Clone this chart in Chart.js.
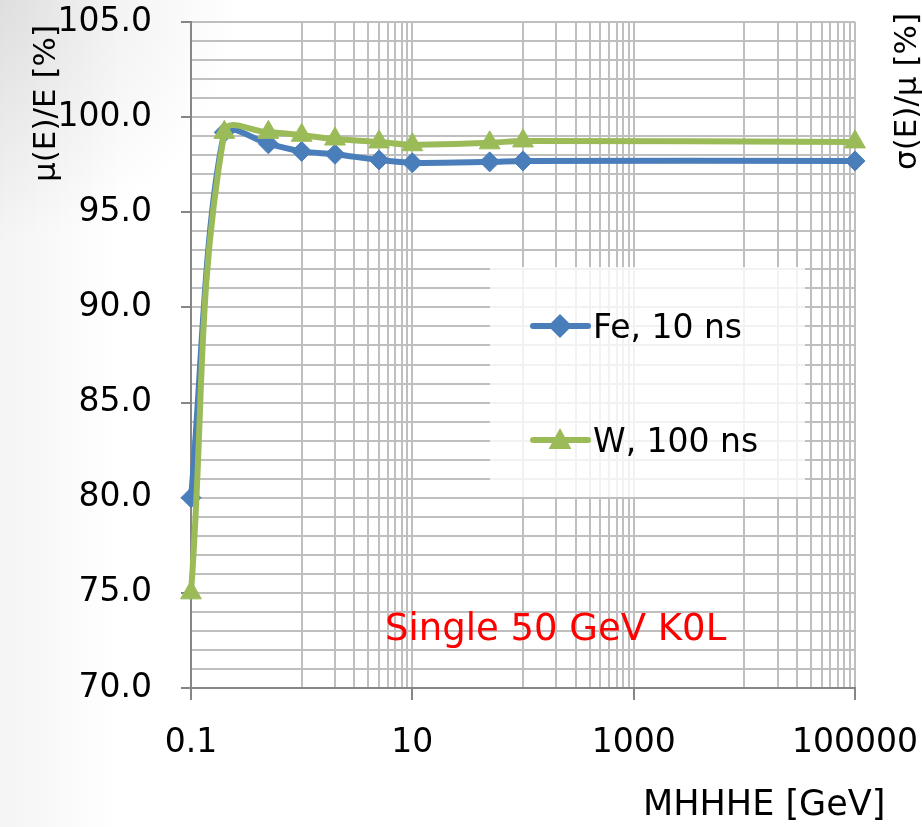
<!doctype html>
<html lang="en">
  <head>
    <meta charset="UTF-8" />
    <title>Mean response vs MHHHE</title>
    <script src="https://cdn.jsdelivr.net/npm/chart.js"></script>
    <style>
      body { margin: 0; background: #fff; }
    </style>
  </head>
  <body>
    <canvas id="responseChart" width="922" height="827"></canvas>
    <script>
      // values
      const energies = [0.1, 0.2, 0.5, 1, 2, 5, 10, 50, 100, 100000];
      const feMean = [80.0, 99.2, 98.6, 98.2, 98.05, 97.75, 97.6, 97.65, 97.7, 97.7];
      const wMean = [75.0, 99.2, 99.2, 99.05, 98.85, 98.7, 98.55, 98.65, 98.75, 98.7];
      const seriesNames = ["Fe, 10 ns", "W, 100 ns"];

      const xMajorTicks = [0.1, 10, 1000, 100000];
      const xMinorTicks = [1, 2, 3, 4, 5, 6, 7, 8, 9,
        100, 200, 300, 400, 500, 600, 700, 800, 900,
        10000, 20000, 30000, 40000, 50000, 60000, 70000, 80000, 90000];
      const yMin = 70, yMax = 105, yStep = 1, yLabelStep = 5;

      const yTitle = "μ(E)/E [%]";
      const y2Title = "σ(E)/μ [%]";
      const xTitle = "MHHHE [GeV]";
      const note = "Single 50 GeV K0L";

      const FONT = "DejaVu Sans";
      const GRID = "#bfbfbf";
      const AXIS = "#868686";
      const BLUE = "#4a7ebb";
      const GREEN = "#9bbb59";

      const isMajorX = (v) => xMajorTicks.some((m) => Math.abs(m - v) / m < 1e-9);

      function marker(ctx, style, x, y, r, color) {
        ctx.fillStyle = color;
        ctx.beginPath();
        if (style === "rectRot") {
          ctx.moveTo(x - r, y);
          ctx.lineTo(x, y - r);
          ctx.lineTo(x + r, y);
          ctx.lineTo(x, y + r);
        } else {
          ctx.moveTo(x, y - r);
          ctx.lineTo(x + r * 0.95, y + r * 0.75);
          ctx.lineTo(x - r * 0.95, y + r * 0.75);
        }
        ctx.closePath();
        ctx.fill();
      }

      const decorations = {
        id: "decorations",
        beforeDraw(chart) {
          const ctx = chart.ctx;
          ctx.save();
          ctx.fillStyle = "#fff";
          ctx.fillRect(0, 0, chart.width, chart.height);
          const g = ctx.createLinearGradient(0, 0, 120, 0);
          g.addColorStop(0, "rgba(0,0,0,0.045)");
          g.addColorStop(1, "rgba(0,0,0,0)");
          ctx.fillStyle = g;
          ctx.fillRect(0, 0, 120, chart.height);
          const r = ctx.createRadialGradient(0, 0, 0, 0, 0, 240);
          r.addColorStop(0, "rgba(0,0,0,0.09)");
          r.addColorStop(1, "rgba(0,0,0,0)");
          ctx.fillStyle = r;
          ctx.fillRect(0, 0, 240, 240);
          ctx.restore();
        },
        afterDraw(chart) {
          const ctx = chart.ctx;
          ctx.save();
          ctx.fillStyle = "#000";
          ctx.textAlign = "left";
          ctx.textBaseline = "alphabetic";

          // axis titles
          ctx.font = "31px '" + FONT + "'";
          ctx.save();
          ctx.translate(55, 182);
          ctx.rotate(-Math.PI / 2);
          ctx.fillText(yTitle, 0, 0);
          ctx.restore();
          ctx.save();
          ctx.translate(916, 170);
          ctx.rotate(-Math.PI / 2);
          ctx.fillText(y2Title, 0, 0);
          ctx.restore();
          ctx.font = "35px '" + FONT + "'";
          ctx.fillText(xTitle, 643, 815);

          // note
          ctx.fillStyle = "#ff0000";
          ctx.font = "37px '" + FONT + "'";
          ctx.fillText(note, 385, 640);

          // legend
          ctx.fillStyle = "rgba(255,255,255,0.8)";
          ctx.fillRect(490, 267, 315, 230);
          const rows = [326, 440];
          chart.data.datasets.forEach((ds, i) => {
            const y = rows[i];
            ctx.strokeStyle = ds.borderColor;
            ctx.lineWidth = 6;
            ctx.lineCap = "round";
            ctx.beginPath();
            ctx.moveTo(533, y);
            ctx.lineTo(588, y);
            ctx.stroke();
            marker(ctx, ds.pointStyle, 560, y, 12, ds.borderColor);
            ctx.fillStyle = "#000";
            ctx.font = "33px '" + FONT + "'";
            ctx.fillText(ds.label, 593, y + 12);
          });
          ctx.restore();
        },
      };

      const ctx = document.getElementById("responseChart").getContext("2d");
      const chart = new Chart(ctx, {
        type: "line",
        data: {
          labels: energies,
          datasets: [
            {
              label: seriesNames[0],
              data: energies.map((e, i) => ({ x: e, y: feMean[i] })),
              borderColor: BLUE,
              backgroundColor: BLUE,
              pointBorderColor: BLUE,
              pointBackgroundColor: BLUE,
              pointStyle: "rectRot",
              pointRadius: 10,
              pointBorderWidth: 1,
              borderWidth: 6,
              tension: 0.3,
              clip: false,
              order: 1,
            },
            {
              label: seriesNames[1],
              data: energies.map((e, i) => ({ x: e, y: wMean[i] })),
              borderColor: GREEN,
              backgroundColor: GREEN,
              pointBorderColor: GREEN,
              pointBackgroundColor: GREEN,
              pointStyle: "triangle",
              pointRadius: 12,
              pointBorderWidth: 1,
              borderWidth: 6,
              tension: 0.4,
              clip: false,
              order: 0,
            },
          ],
        },
        options: {
          responsive: false,
          animation: false,
          events: [],
          layout: { padding: { top: 22, right: 67, left: 0, bottom: 0 } },
          plugins: {
            legend: { display: false },
            tooltip: { enabled: false },
          },
          scales: {
            x: {
              type: "logarithmic",
              min: 0.1,
              max: 100000,
              afterFit(scale) {
                scale.height = 139;
                scale.paddingLeft = 0;
                scale.paddingRight = 0;
              },
              afterBuildTicks(scale) {
                scale.ticks = xMajorTicks.concat(xMinorTicks)
                  .sort((a, b) => a - b)
                  .map((v) => ({ value: v, major: isMajorX(v) }));
              },
              border: { color: AXIS, width: 2 },
              grid: {
                color: GRID,
                lineWidth: 2,
                tickLength: 12,
                tickWidth: 2,
                tickColor: (c) => (c.tick && isMajorX(c.tick.value) ? AXIS : "rgba(0,0,0,0)"),
              },
              ticks: {
                autoSkip: false,
                maxRotation: 0,
                padding: 24,
                color: "#000",
                font: { family: FONT, size: 33 },
                callback: (v) => (isMajorX(v) ? String(v) : ""),
              },
            },
            y: {
              min: yMin,
              max: yMax,
              afterFit(scale) {
                scale.width = 191;
                scale.paddingTop = 0;
                scale.paddingBottom = 0;
              },
              border: { color: AXIS, width: 2 },
              grid: {
                color: GRID,
                lineWidth: 2,
                tickLength: 10,
                tickWidth: 2,
                tickColor: (c) => (c.tick && c.tick.value % yLabelStep === 0 ? AXIS : "rgba(0,0,0,0)"),
              },
              ticks: {
                stepSize: yStep,
                autoSkip: false,
                padding: 29,
                color: "#000",
                font: { family: FONT, size: 33 },
                callback: (v) => (v % yLabelStep === 0 ? v.toFixed(1) : ""),
              },
            },
          },
        },
        plugins: [decorations],
      });
    </script>
  </body>
</html>
